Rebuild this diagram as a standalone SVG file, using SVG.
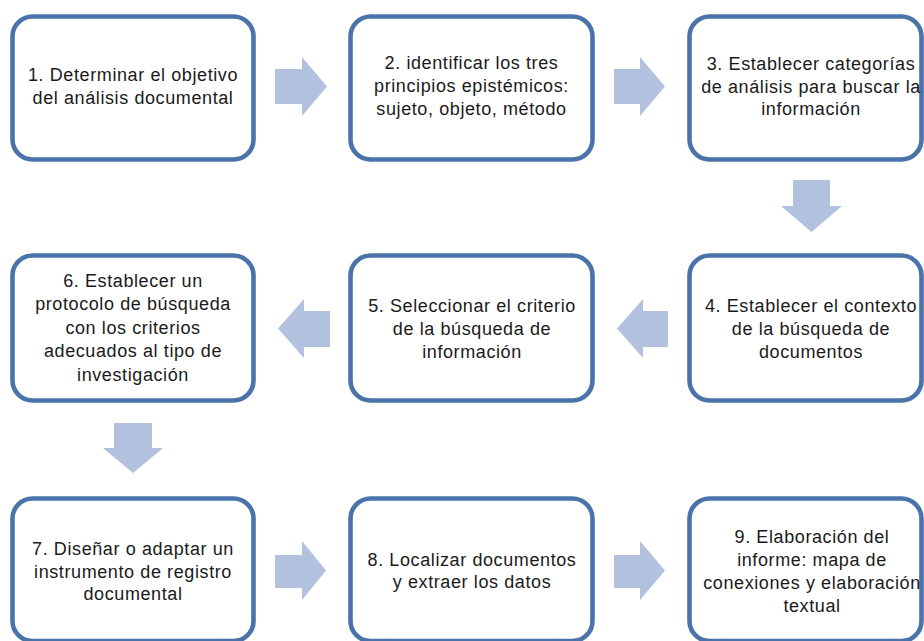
<svg xmlns="http://www.w3.org/2000/svg" width="924" height="641" viewBox="0 0 924 641">
<style>
.box{fill:#ffffff;stroke:#4a73aa;stroke-width:4.6}
.t{font-family:"Liberation Sans",Arial,sans-serif;font-size:18px;letter-spacing:0.6px;fill:#1a1a1a;text-anchor:middle}
.arr{fill:#b1c1de}
</style>
<rect width="924" height="641" fill="#ffffff"/>
<g id="connectors">
<polygon class="arr" points="275,69 302,69 302,57 327,86.5 302,116 302,104 275,104"/>
<polygon class="arr" points="614,69 640,69 640,57 665,86.5 640,116 640,104 614,104"/>
<polygon class="arr" points="793,180 830,180 830,206 842,206 811.5,232 781,206 793,206"/>
<polygon class="arr" points="668,311 643,311 643,299 617,328.5 643,358 643,347 668,347"/>
<polygon class="arr" points="330,311 304,311 304,299 278,328.5 304,358 304,347 330,347"/>
<polygon class="arr" points="114,423 152,423 152,448 163,448 133,473 103,448 114,448"/>
<polygon class="arr" points="275,555 302,555 302,541 326,570.5 302,600 302,588 275,588"/>
<polygon class="arr" points="614,555 640,555 640,541 665,570.5 640,600 640,588 614,588"/>
</g>
<g id="n1"><rect class="box" x="12.5" y="16.5" width="241" height="143" rx="20"/>
<text class="t" x="133" y="81">1. Determinar el objetivo</text><text class="t" x="133" y="104">del análisis documental</text></g>
<g id="n2"><rect class="box" x="350.5" y="16.5" width="242" height="143" rx="20"/>
<text class="t" x="471.5" y="69">2. identificar los tres</text><text class="t" x="471.5" y="92">principios epistémicos:</text><text class="t" x="471.5" y="115">sujeto, objeto, método</text></g>
<g id="n3"><rect class="box" x="689.5" y="16.5" width="232" height="143" rx="20"/>
<text class="t" x="811" y="70">3. Establecer categorías</text><text class="t" x="811" y="93">de análisis para buscar la</text><text class="t" x="811" y="115">información</text></g>
<g id="n4"><rect class="box" x="689.5" y="255.5" width="232" height="145" rx="20"/>
<text class="t" x="811" y="312">4. Establecer el contexto</text><text class="t" x="811" y="335">de la búsqueda de</text><text class="t" x="811" y="358">documentos</text></g>
<g id="n5"><rect class="box" x="350.5" y="255.5" width="242" height="145" rx="20"/>
<text class="t" x="472" y="312">5. Seleccionar el criterio</text><text class="t" x="472" y="335">de la búsqueda de</text><text class="t" x="472" y="358">información</text></g>
<g id="n6"><rect class="box" x="12.5" y="255.5" width="241" height="145" rx="20"/>
<text class="t" x="133" y="287">6. Establecer un</text><text class="t" x="133" y="310">protocolo de búsqueda</text><text class="t" x="133" y="334">con los criterios</text><text class="t" x="133" y="357">adecuados al tipo de</text><text class="t" x="133" y="381">investigación</text></g>
<g id="n7"><rect class="box" x="12.5" y="498.5" width="241" height="142.5" rx="20"/>
<text class="t" x="133" y="555">7. Diseñar o adaptar un</text><text class="t" x="133" y="578">instrumento de registro</text><text class="t" x="133" y="600">documental</text></g>
<g id="n8"><rect class="box" x="350.5" y="498.5" width="242" height="142.5" rx="20"/>
<text class="t" x="472" y="566">8. Localizar documentos</text><text class="t" x="472" y="588">y extraer los datos</text></g>
<g id="n9"><rect class="box" x="689.5" y="498.5" width="232" height="142.5" rx="20"/>
<text class="t" x="812" y="543">9. Elaboración del</text><text class="t" x="812" y="566">informe: mapa de</text><text class="t" x="812" y="589">conexiones y elaboración</text><text class="t" x="812" y="612">textual</text></g>
</svg>
